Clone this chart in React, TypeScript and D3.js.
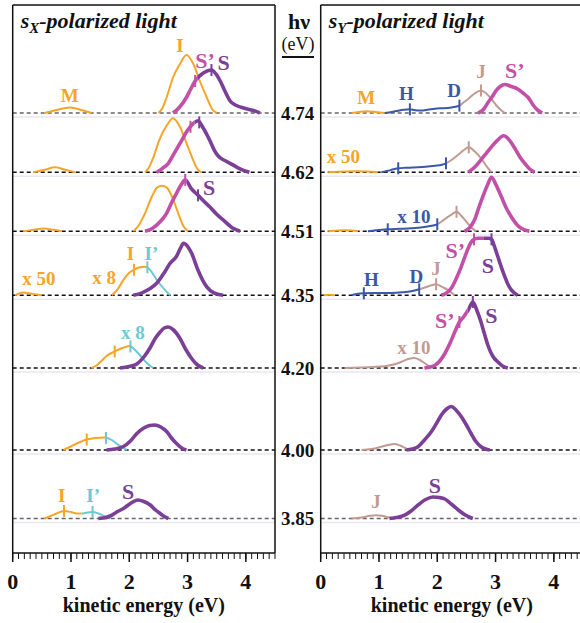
import React from 'react';
import * as d3 from 'd3';

// ---------- data ----------
const HV = ['4.74', '4.62', '4.51', '4.35', '4.20', '4.00', '3.85'];
const E_TICKS = [0, 1, 2, 3, 4];

// s_X panel  [kinetic energy (eV), intensity (a.u.)]
const sxM_474 = [[0.55,0],[0.75,0.06],[0.98,0.11],[1.18,0.06],[1.35,0]];
const sxI_474 = [[2.50,0],[2.56,0.08],[2.64,0.31],[2.75,0.71],[2.87,0.98],[2.98,1.16],[3.10,0.98],[3.21,0.64],[3.33,0.31],[3.42,0.08],[3.50,0]];
const sxS_474 = [[2.75,0],[2.85,0.1],[2.98,0.31],[3.05,0.47],[3.13,0.64],[3.27,0.8],[3.41,0.86],[3.50,0.76],[3.56,0.64],[3.64,0.44],[3.73,0.24],[3.84,0.15],[3.96,0.1],[4.13,0.05],[4.24,0]];
const sxM_462 = [[0.35,0],[0.55,0.05],[0.73,0.1],[0.90,0.05],[1.07,0]];
const sxI_462 = [[2.27,0],[2.33,0.08],[2.41,0.29],[2.52,0.66],[2.64,0.93],[2.75,1.08],[2.86,0.93],[2.97,0.62],[3.08,0.29],[3.16,0.08],[3.24,0]];
const sxS_462 = [[2.47,0],[2.57,0.08],[2.67,0.18],[2.78,0.4],[2.90,0.64],[3.00,0.84],[3.10,0.98],[3.18,1.03],[3.26,0.9],[3.38,0.64],[3.46,0.44],[3.53,0.32],[3.63,0.24],[3.73,0.18],[3.85,0.1],[3.96,0.04],[4.06,0]];
const sxM_451 = [[0.18,0],[0.36,0.03],[0.53,0.055],[0.70,0.03],[0.84,0]];
const sxI_451 = [[2.07,0],[2.15,0.1],[2.27,0.36],[2.39,0.7],[2.48,0.88],[2.56,0.91],[2.64,0.88],[2.73,0.7],[2.84,0.36],[2.93,0.1],[3.01,0]];
const sxS_451 = [[2.27,0],[2.40,0.06],[2.52,0.18],[2.64,0.36],[2.73,0.58],[2.81,0.76],[2.89,0.93],[2.96,1.03],[3.06,0.86],[3.18,0.72],[3.28,0.6],[3.38,0.49],[3.50,0.34],[3.61,0.23],[3.78,0.06],[3.90,0]];
const sxM_435 = [[0.04,0],[0.10,0.03],[0.18,0.055],[0.32,0.03],[0.50,0]];
const sxI_435 = [[1.70,0],[1.80,0.12],[1.90,0.31],[2.00,0.45],[2.08,0.51],[2.18,0.56],[2.27,0.57],[2.31,0.56],[2.40,0.44],[2.47,0.31],[2.61,0.11],[2.70,0]];
const sxS_435 = [[2.07,0],[2.22,0.05],[2.35,0.13],[2.47,0.24],[2.60,0.45],[2.70,0.64],[2.81,0.78],[2.88,0.95],[2.93,1.04],[3.00,0.98],[3.07,0.84],[3.18,0.5],[3.26,0.3],[3.33,0.17],[3.45,0.05],[3.61,0]];
const sxI_420 = [[1.35,0],[1.45,0.06],[1.53,0.15],[1.61,0.24],[1.75,0.33],[1.88,0.4],[2.01,0.44],[2.10,0.36],[2.21,0.22],[2.30,0.1],[2.41,0]];
const sxS_420 = [[1.84,0],[2.00,0.03],[2.13,0.08],[2.25,0.22],[2.35,0.39],[2.45,0.6],[2.53,0.72],[2.60,0.8],[2.67,0.82],[2.75,0.77],[2.87,0.59],[2.97,0.37],[3.07,0.19],[3.17,0.06],[3.27,0]];
const sxI_400 = [[0.87,0],[0.98,0.06],[1.10,0.13],[1.27,0.21],[1.42,0.24],[1.58,0.25],[1.70,0.2],[1.78,0.13],[1.87,0.06],[1.96,0]];
const sxS_400 = [[1.61,0],[1.75,0.02],[1.90,0.07],[2.02,0.18],[2.13,0.33],[2.25,0.44],[2.35,0.49],[2.44,0.5],[2.54,0.46],[2.64,0.37],[2.73,0.23],[2.81,0.13],[2.90,0.04],[2.98,0]];
const sxI_385 = [[0.55,0],[0.65,0.05],[0.75,0.1],[0.88,0.15],[1.00,0.13],[1.10,0.1],[1.18,0.1],[1.28,0.12],[1.37,0.13],[1.47,0.1],[1.57,0.05],[1.67,0]];
const sxS_385 = [[1.47,0],[1.60,0.02],[1.67,0.05],[1.80,0.14],[1.90,0.2],[2.02,0.3],[2.15,0.37],[2.25,0.34],[2.36,0.27],[2.45,0.17],[2.53,0.1],[2.60,0.04],[2.67,0]];

// s_Y panel
const syM_474 = [[0.53,0],[0.65,0.02],[0.78,0.035],[0.95,0.02],[1.10,0]];
const syJ_474 = [[1.10,0],[1.22,0.02],[1.33,0.047],[1.43,0.065],[1.53,0.073],[1.62,0.055],[1.72,0.05],[1.85,0.07],[1.96,0.087],[2.08,0.095],[2.18,0.1],[2.28,0.12],[2.38,0.147],[2.46,0.22],[2.53,0.28],[2.64,0.39],[2.75,0.45],[2.84,0.39],[2.93,0.28],[3.03,0.13],[3.10,0.05],[3.16,0]];
const syS_474 = [[2.70,0],[2.80,0.08],[2.87,0.21],[2.95,0.34],[3.01,0.45],[3.08,0.53],[3.16,0.57],[3.27,0.53],[3.38,0.48],[3.47,0.4],[3.56,0.31],[3.65,0.15],[3.73,0.05],[3.80,0]];
const syM_462 = [[0.13,0],[0.40,0.015],[0.60,0.02],[0.80,0.015],[0.98,0]];
const syJ_462 = [[1.04,0],[1.15,0.03],[1.25,0.06],[1.33,0.08],[1.45,0.09],[1.57,0.095],[1.67,0.1],[1.80,0.11],[1.96,0.13],[2.08,0.15],[2.15,0.18],[2.25,0.25],[2.36,0.35],[2.45,0.44],[2.54,0.5],[2.64,0.42],[2.75,0.28],[2.84,0.13],[2.93,0]];
const syS_462 = [[2.53,0],[2.64,0.1],[2.75,0.25],[2.84,0.38],[2.93,0.51],[3.03,0.64],[3.14,0.73],[3.24,0.64],[3.33,0.48],[3.42,0.3],[3.50,0.18],[3.58,0.07],[3.67,0]];
const syM_451 = [[0.13,0],[0.30,0.015],[0.40,0.02],[0.55,0.015],[0.64,0]];
const syJ_451 = [[0.81,0],[0.95,0.02],[1.15,0.04],[1.35,0.05],[1.55,0.06],[1.75,0.08],[1.90,0.11],[2.00,0.14],[2.08,0.2],[2.15,0.26],[2.25,0.34],[2.33,0.39],[2.42,0.3],[2.50,0.19],[2.58,0.08],[2.67,0]];
const syS_451 = [[2.47,0],[2.56,0.08],[2.64,0.23],[2.72,0.5],[2.78,0.69],[2.86,0.92],[2.93,1.08],[3.00,0.95],[3.10,0.69],[3.19,0.45],[3.27,0.29],[3.36,0.14],[3.44,0.06],[3.58,0]];
const syM_435 = [[0.05,0],[0.14,0.012],[0.24,0]];
const syJ_435 = [[0.53,0],[0.64,0.03],[0.74,0.04],[0.90,0.045],[1.05,0.045],[1.21,0.046],[1.40,0.06],[1.55,0.08],[1.69,0.12],[1.80,0.16],[1.90,0.2],[1.98,0.22],[2.08,0.17],[2.18,0.11],[2.30,0]];
const syS_435 = [[2.07,0],[2.15,0.04],[2.24,0.14],[2.32,0.32],[2.41,0.57],[2.47,0.76],[2.53,0.94],[2.58,1.06],[2.63,1.12],[2.70,1.14],[2.80,1.14],[2.88,1.14],[2.93,1.12],[2.98,0.98],[3.04,0.77],[3.10,0.56],[3.16,0.37],[3.22,0.2],[3.27,0.11],[3.33,0.04],[3.38,0]];
const syJ_420 = [[0.41,0],[0.70,0.01],[0.90,0.02],[1.10,0.035],[1.25,0.07],[1.38,0.12],[1.50,0.18],[1.61,0.2],[1.70,0.16],[1.78,0.1],[1.90,0]];
const syS_420 = [[1.78,0],[1.87,0.02],[1.96,0.055],[2.05,0.15],[2.13,0.29],[2.22,0.5],[2.30,0.72],[2.38,0.92],[2.45,1.02],[2.53,1.16],[2.61,1.32],[2.68,1.15],[2.75,0.92],[2.81,0.68],[2.87,0.45],[2.95,0.24],[3.04,0.12],[3.12,0.04],[3.21,0]];
const syJ_400 = [[0.70,0],[0.87,0.02],[1.04,0.066],[1.15,0.1],[1.27,0.12],[1.36,0.09],[1.44,0.046],[1.52,0]];
const syS_400 = [[1.47,0],[1.57,0.02],[1.67,0.066],[1.78,0.2],[1.90,0.37],[2.00,0.56],[2.07,0.7],[2.16,0.82],[2.24,0.87],[2.32,0.8],[2.41,0.67],[2.50,0.5],[2.58,0.33],[2.67,0.16],[2.75,0.066],[2.83,0.02],[2.90,0]];
const syJ_385 = [[0.53,0],[0.70,0.02],[0.85,0.055],[0.95,0.066],[1.05,0.055],[1.15,0.025],[1.27,0]];
const syS_385 = [[1.18,0],[1.30,0.02],[1.44,0.066],[1.55,0.15],[1.67,0.27],[1.80,0.38],[1.93,0.43],[2.03,0.42],[2.13,0.39],[2.25,0.28],[2.36,0.17],[2.48,0.07],[2.61,0]];

// ---------- styles / layout ----------
const COL: Record<string, string> = {
  orange: '#F6A526', cyan: '#6CC9D3', purple: '#7B3F97', magenta: '#C24FA8',
  blue: '#3B57A5', brown: '#C39A91',
};
const ROW_Y = [113, 172.3, 231.3, 295.3, 368, 450, 518.5];
const TOP = 5, BOTTOM = 553;
const font = (size: number, bold = true, italic = false): React.CSSProperties => ({
  fontFamily: 'Liberation Serif', fontSize: size, fontWeight: bold ? 700 : 400, fontStyle: italic ? 'italic' : 'normal',
});

type Curve = { row: number; pts: number[][]; segs: [number, string][]; ticks?: [number, string][]; thick?: boolean };
type Label = [number, number, number, string, string, number];

const SX_CURVES: Curve[] = [
  { row: 0, pts: sxM_474, segs: [[0, 'orange']] },
  { row: 0, pts: sxI_474, segs: [[0, 'orange']] },
  { row: 0, pts: sxS_474, segs: [[0, 'magenta'], [3.17, 'purple']], ticks: [[3.13, 'magenta'], [3.41, 'purple']], thick: true },
  { row: 1, pts: sxM_462, segs: [[0, 'orange']] },
  { row: 1, pts: sxI_462, segs: [[0, 'orange']] },
  { row: 1, pts: sxS_462, segs: [[0, 'magenta'], [3.12, 'purple']], ticks: [[3.05, 'magenta'], [3.20, 'purple']], thick: true },
  { row: 2, pts: sxM_451, segs: [[0, 'orange']] },
  { row: 2, pts: sxI_451, segs: [[0, 'orange']] },
  { row: 2, pts: sxS_451, segs: [[0, 'magenta'], [2.98, 'purple']], ticks: [[2.96, 'magenta'], [3.18, 'purple']], thick: true },
  { row: 3, pts: sxM_435, segs: [[0, 'orange']] },
  { row: 3, pts: sxI_435, segs: [[0, 'orange'], [2.31, 'cyan']], ticks: [[2.08, 'orange'], [2.31, 'cyan']] },
  { row: 3, pts: sxS_435, segs: [[0, 'purple']], thick: true },
  { row: 4, pts: sxI_420, segs: [[0, 'orange'], [2.02, 'cyan']], ticks: [[1.75, 'orange'], [2.02, 'cyan']] },
  { row: 4, pts: sxS_420, segs: [[0, 'purple']], thick: true },
  { row: 5, pts: sxI_400, segs: [[0, 'orange'], [1.60, 'cyan']], ticks: [[1.27, 'orange'], [1.60, 'cyan']] },
  { row: 5, pts: sxS_400, segs: [[0, 'purple']], thick: true },
  { row: 6, pts: sxI_385, segs: [[0, 'orange'], [1.18, 'cyan']], ticks: [[0.88, 'orange'], [1.37, 'cyan']] },
  { row: 6, pts: sxS_385, segs: [[0, 'purple']], thick: true },
];

const SY_CURVES: Curve[] = [
  { row: 0, pts: syM_474, segs: [[0, 'orange']] },
  { row: 0, pts: syJ_474, segs: [[0, 'blue'], [2.38, 'brown']], ticks: [[1.53, 'blue'], [2.38, 'blue'], [2.75, 'brown']] },
  { row: 0, pts: syS_474, segs: [[0, 'magenta']], thick: true },
  { row: 1, pts: syM_462, segs: [[0, 'orange']] },
  { row: 1, pts: syJ_462, segs: [[0, 'blue'], [2.15, 'brown']], ticks: [[1.33, 'blue'], [2.15, 'blue'], [2.54, 'brown']] },
  { row: 1, pts: syS_462, segs: [[0, 'magenta']], thick: true },
  { row: 2, pts: syM_451, segs: [[0, 'orange']] },
  { row: 2, pts: syJ_451, segs: [[0, 'blue'], [2.00, 'brown']], ticks: [[1.15, 'blue'], [2.00, 'blue'], [2.33, 'brown']] },
  { row: 2, pts: syS_451, segs: [[0, 'magenta']], thick: true },
  { row: 3, pts: syM_435, segs: [[0, 'orange']] },
  { row: 3, pts: syJ_435, segs: [[0, 'blue'], [1.69, 'brown']], ticks: [[0.74, 'blue'], [1.69, 'blue'], [1.98, 'brown']] },
  { row: 3, pts: syS_435, segs: [[0, 'magenta'], [2.80, 'purple']], ticks: [[2.63, 'magenta'], [2.93, 'purple']], thick: true },
  { row: 4, pts: syJ_420, segs: [[0, 'brown']] },
  { row: 4, pts: syS_420, segs: [[0, 'magenta'], [2.52, 'purple']], ticks: [[2.38, 'magenta'], [2.61, 'purple']], thick: true },
  { row: 5, pts: syJ_400, segs: [[0, 'brown']] },
  { row: 5, pts: syS_400, segs: [[0, 'purple']], thick: true },
  { row: 6, pts: syJ_385, segs: [[0, 'brown']] },
  { row: 6, pts: syS_385, segs: [[0, 'purple']], thick: true },
];

// [row, energy, intensity, text, colour, font size]
const SX_LABELS: Label[] = [
  [0, 0.98, 0.35, 'M', 'orange', 19],
  [0, 2.87, 1.36, 'I', 'orange', 19],
  [0, 3.30, 1.06, 'S’', 'magenta', 22],
  [0, 3.62, 1.02, 'S', 'purple', 22],
  [2, 3.37, 0.89, 'S', 'purple', 22],
  [3, 2.02, 0.84, 'I', 'orange', 19],
  [3, 2.38, 0.84, 'I’', 'cyan', 19],
  [3, 0.45, 0.34, 'x 50', 'orange', 19],
  [3, 1.57, 0.35, 'x 8', 'orange', 19],
  [4, 2.06, 0.71, 'x 8', 'cyan', 19],
  [6, 0.84, 0.47, 'I', 'orange', 19],
  [6, 1.38, 0.47, 'I’', 'cyan', 19],
  [6, 1.98, 0.54, 'S', 'purple', 22],
];
const SY_LABELS: Label[] = [
  [0, 0.78, 0.31, 'M', 'orange', 19],
  [0, 1.47, 0.39, 'H', 'blue', 19],
  [0, 2.29, 0.46, 'D', 'blue', 19],
  [0, 2.75, 0.83, 'J', 'brown', 19],
  [0, 3.33, 0.86, 'S’', 'magenta', 22],
  [1, 0.39, 0.31, 'x 50', 'orange', 19],
  [2, 1.60, 0.29, 'x 10', 'blue', 19],
  [3, 2.31, 0.91, 'S’', 'magenta', 22],
  [3, 2.87, 0.61, 'S', 'purple', 22],
  [3, 0.87, 0.31, 'H', 'blue', 19],
  [3, 1.64, 0.37, 'D', 'blue', 19],
  [3, 1.98, 0.54, 'J', 'brown', 19],
  [4, 2.13, 0.96, 'S’', 'magenta', 22],
  [4, 2.93, 1.06, 'S', 'purple', 22],
  [4, 1.60, 0.41, 'x 10', 'brown', 19],
  [6, 0.95, 0.34, 'J', 'brown', 19],
  [6, 1.96, 0.67, 'S', 'purple', 22],
];

const yI = d3.scaleLinear().domain([0, 1]).range([0, 50]);

function valueAt(pts: number[][], e: number) {
  for (let i = 0; i < pts.length - 1; i++) {
    if (e >= pts[i][0] && e <= pts[i + 1][0]) {
      const t = (e - pts[i][0]) / (pts[i + 1][0] - pts[i][0]);
      return pts[i][1] + t * (pts[i + 1][1] - pts[i][1]);
    }
  }
  return 0;
}

function Panel({ id, x0, x1, curves, labels, sub }: { id: string; x0: number; x1: number; curves: Curve[]; labels: Label[]; sub: string }) {
  const x = d3.scaleLinear().domain([0, 4.5]).range([x0, x1]);
  const line = (row: number) => d3.line<number[]>()
    .x(d => x(d[0]))
    .y(d => ROW_Y[row] - yI(d[1]))
    .curve(d3.curveMonotoneX);
  const minor = d3.range(0, 4.501, 0.1);
  return (
    <g>
      <defs>
        {curves.map((c, ci) => c.segs.map((s, si) => {
          const a = si === 0 ? -1 : s[0];
          const b = si < c.segs.length - 1 ? c.segs[si + 1][0] : 10;
          return (
            <clipPath key={`${ci}-${si}`} id={`${id}-${ci}-${si}`}>
              <rect x={x(a)} y={0} width={x(b) - x(a)} height={623} />
            </clipPath>
          );
        }))}
      </defs>
      {ROW_Y.map((y, i) => (
        <line key={'f' + i} x1={x0} x2={x1} y1={y + 4} y2={y + 4} stroke="#ebe6f0" strokeWidth={1.5} />
      ))}
      {ROW_Y.map((y, i) => (
        <line key={'b' + i} x1={x0} x2={x1} y1={y} y2={y}
          stroke={i === 0 || i === 6 ? '#666' : '#111'} strokeWidth={1.5} strokeDasharray="4,3" />
      ))}
      {curves.map((c, ci) => c.segs.map((s, si) => (
        <path key={`c${ci}-${si}`} d={line(c.row)(c.pts) || ''} fill="none"
          stroke={COL[s[1]]} strokeWidth={c.thick ? 3.6 : 2} strokeLinejoin="round"
          clipPath={`url(#${id}-${ci}-${si})`} />
      )))}
      {curves.map((c, ci) => (c.ticks || []).map((t, ti) => {
        const cy = ROW_Y[c.row] - yI(valueAt(c.pts, t[0]));
        return <line key={`t${ci}-${ti}`} x1={x(t[0])} x2={x(t[0])} y1={cy - 6} y2={cy + 6} stroke={COL[t[1]]} strokeWidth={2} />;
      }))}
      {labels.map((l, i) => (
        <text key={'l' + i} x={x(l[1])} y={ROW_Y[l[0]] - yI(l[2])} dy="0.35em" textAnchor="middle"
          style={font(l[5])} fill={COL[l[4]]}>{l[3]}</text>
      ))}
      <text x={x0 + 8} y={28} style={font(22, true, true)} fill="#111">
        <tspan>s</tspan>
        <tspan dy={5} style={font(15, true, true)}>{sub}</tspan>
        <tspan dy={-5}>-polarized light</tspan>
      </text>
      <line x1={x0} x2={x0} y1={TOP} y2={BOTTOM} stroke="#111" strokeWidth={1.5} />
      <line x1={x0} x2={x1} y1={TOP} y2={TOP} stroke="#111" strokeWidth={1.5} />
      <line x1={x1} x2={x1} y1={TOP} y2={BOTTOM} stroke="#111" strokeWidth={1.5} />
      <line x1={x0} x2={x1} y1={BOTTOM} y2={BOTTOM} stroke="#111" strokeWidth={1.5} />
      {minor.map((v, i) => (
        <line key={'m' + i} x1={x(v)} x2={x(v)} y1={BOTTOM} y2={BOTTOM + 6} stroke="#111" strokeWidth={1} />
      ))}
      {E_TICKS.map(v => (
        <g key={'M' + v}>
          <line x1={x(v)} x2={x(v)} y1={BOTTOM} y2={BOTTOM + 9} stroke="#111" strokeWidth={1.5} />
          <text x={x(v)} y={589} textAnchor="middle" style={font(22)} fill="#111">{v}</text>
        </g>
      ))}
      <text x={(x0 + x1) / 2} y={612} textAnchor="middle" style={font(20)} fill="#111">kinetic energy (eV)</text>
    </g>
  );
}

export default function App() {
  return (
    <svg width={580} height={623} style={{ position: 'absolute', left: 0, top: 0, background: '#fff' }}>
      <rect width={580} height={623} fill="#fff" />
      <Panel id="sx" x0={12.7} x1={275} curves={SX_CURVES} labels={SX_LABELS} sub="X" />
      <Panel id="sy" x0={320.7} x1={583} curves={SY_CURVES} labels={SY_LABELS} sub="Y" />
      <text x={299} y={29} textAnchor="middle" style={font(22)} fill="#111">hν</text>
      <text x={298} y={50} textAnchor="middle" style={font(18, false)} fill="#111">(eV)</text>
      <line x1={282} x2={314} y1={57} y2={57} stroke="#111" strokeWidth={2} />
      {HV.map((h, i) => (
        <text key={h} x={297.5} y={ROW_Y[i]} dy="0.35em" textAnchor="middle" style={font(19)} fill="#111">{h}</text>
      ))}
    </svg>
  );
}
